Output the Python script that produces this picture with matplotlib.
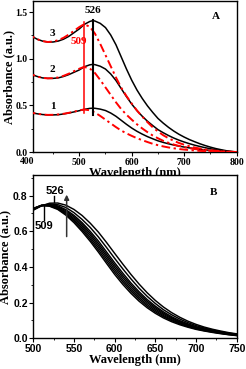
import numpy as np
import matplotlib
matplotlib.use("Agg")
import matplotlib.pyplot as plt
from matplotlib.ticker import MultipleLocator

# ---------------- DATA : panel A ----------------
wl_black = [400, 410, 420, 430, 440, 450, 460, 470, 480, 490, 500, 510, 520, 526,
            530, 540, 550, 560, 570, 580, 590, 600, 610, 620, 630, 640, 650, 660,
            670, 680, 690, 700, 710, 720, 730, 740, 750, 760, 770, 780, 790, 800]
black_3 = [1.27, 1.24, 1.21, 1.19, 1.18, 1.18, 1.19, 1.21, 1.24, 1.28, 1.32, 1.37, 1.40, 1.41,
           1.405, 1.38, 1.335, 1.255, 1.15, 1.02, 0.89, 0.77, 0.665, 0.575, 0.495, 0.425, 0.36, 0.31,
           0.265, 0.225, 0.19, 0.16, 0.133, 0.11, 0.088, 0.069, 0.052, 0.037, 0.025, 0.014, 0.006, 0.0]
black_2 = [0.85, 0.83, 0.81, 0.795, 0.79, 0.79, 0.795, 0.81, 0.83, 0.855, 0.88, 0.915, 0.935, 0.94,
           0.937, 0.92, 0.89, 0.837, 0.767, 0.68, 0.594, 0.514, 0.444, 0.384, 0.33, 0.284, 0.24, 0.207,
           0.177, 0.15, 0.127, 0.107, 0.089, 0.073, 0.059, 0.046, 0.035, 0.025, 0.017, 0.009, 0.004, 0.0]
black_1 = [0.43, 0.42, 0.41, 0.402, 0.398, 0.398, 0.40, 0.408, 0.418, 0.43, 0.443, 0.458, 0.468, 0.47,
           0.469, 0.46, 0.445, 0.418, 0.383, 0.34, 0.297, 0.257, 0.222, 0.192, 0.165, 0.142, 0.12, 0.103,
           0.088, 0.075, 0.063, 0.053, 0.044, 0.037, 0.029, 0.023, 0.017, 0.012, 0.008, 0.005, 0.002, 0.0]

wl_red = [400, 410, 420, 430, 440, 450, 460, 470, 480, 490, 500, 509, 520, 530,
          540, 550, 560, 570, 580, 590, 600, 610, 620, 630, 640, 650, 660, 670,
          680, 690, 700, 710, 720, 730, 740, 750, 760, 770, 780, 790, 800]
red_3 = [1.27, 1.24, 1.21, 1.19, 1.18, 1.185, 1.20, 1.225, 1.26, 1.30, 1.34, 1.37, 1.345, 1.27,
         1.16, 1.04, 0.92, 0.80, 0.69, 0.60, 0.52, 0.445, 0.38, 0.32, 0.265, 0.22, 0.18, 0.148,
         0.12, 0.097, 0.078, 0.062, 0.048, 0.037, 0.028, 0.02, 0.014, 0.009, 0.005, 0.002, 0.0]
red_2 = [0.85, 0.83, 0.81, 0.795, 0.79, 0.792, 0.80, 0.817, 0.84, 0.867, 0.893, 0.913, 0.897, 0.847,
         0.773, 0.693, 0.613, 0.533, 0.46, 0.40, 0.347, 0.297, 0.253, 0.213, 0.177, 0.147, 0.12, 0.099,
         0.08, 0.065, 0.052, 0.041, 0.032, 0.025, 0.019, 0.013, 0.009, 0.006, 0.003, 0.001, 0.0]
red_1 = [0.43, 0.42, 0.41, 0.402, 0.398, 0.399, 0.403, 0.41, 0.42, 0.433, 0.446, 0.456, 0.448, 0.423,
         0.387, 0.347, 0.307, 0.267, 0.23, 0.20, 0.173, 0.148, 0.127, 0.107, 0.088, 0.073, 0.06, 0.049,
         0.04, 0.032, 0.026, 0.021, 0.016, 0.012, 0.009, 0.007, 0.005, 0.003, 0.002, 0.001, 0.0]

curve_labels = ["1", "2", "3"]
label_y = [0.485, 0.88, 1.27]

# ---------------- DATA : panel B ----------------
wl_b = [500, 510, 520, 530, 540, 550, 560, 570, 580, 590, 600, 610, 620,
        630, 640, 650, 660, 670, 680, 690, 700, 710, 720, 730, 740, 750]
b_c0 = [0.728, 0.745, 0.740, 0.722, 0.690, 0.648, 0.598, 0.543, 0.483, 0.420, 0.358, 0.302, 0.252,
        0.208, 0.171, 0.140, 0.114, 0.093, 0.076, 0.062, 0.050, 0.041, 0.033, 0.026, 0.020, 0.015]
b_c1 = [0.727, 0.745, 0.742, 0.726, 0.696, 0.656, 0.608, 0.554, 0.495, 0.433, 0.371, 0.315, 0.264,
        0.219, 0.180, 0.148, 0.121, 0.099, 0.081, 0.066, 0.053, 0.043, 0.035, 0.028, 0.021, 0.016]
b_c2 = [0.726, 0.744, 0.744, 0.730, 0.702, 0.664, 0.618, 0.565, 0.508, 0.446, 0.384, 0.327, 0.275,
        0.229, 0.189, 0.156, 0.127, 0.104, 0.085, 0.069, 0.056, 0.046, 0.037, 0.029, 0.023, 0.017]
b_c3 = [0.725, 0.744, 0.746, 0.734, 0.708, 0.672, 0.628, 0.577, 0.520, 0.459, 0.397, 0.340, 0.287,
        0.240, 0.199, 0.164, 0.134, 0.110, 0.090, 0.073, 0.059, 0.048, 0.039, 0.031, 0.024, 0.018]
b_c4 = [0.724, 0.744, 0.747, 0.738, 0.715, 0.681, 0.638, 0.588, 0.532, 0.471, 0.410, 0.352, 0.299,
        0.250, 0.208, 0.172, 0.141, 0.115, 0.094, 0.077, 0.062, 0.051, 0.041, 0.033, 0.025, 0.019]
b_c5 = [0.723, 0.743, 0.749, 0.742, 0.721, 0.689, 0.648, 0.599, 0.545, 0.484, 0.423, 0.365, 0.310,
        0.261, 0.217, 0.180, 0.148, 0.121, 0.099, 0.081, 0.065, 0.053, 0.043, 0.034, 0.027, 0.021]
b_c6 = [0.720, 0.743, 0.753, 0.749, 0.733, 0.704, 0.666, 0.621, 0.568, 0.509, 0.448, 0.389, 0.333,
        0.281, 0.235, 0.195, 0.160, 0.132, 0.108, 0.088, 0.071, 0.058, 0.047, 0.037, 0.029, 0.023]
b_c7 = [0.718, 0.742, 0.757, 0.758, 0.746, 0.722, 0.688, 0.645, 0.595, 0.537, 0.476, 0.416, 0.358,
        0.304, 0.255, 0.212, 0.175, 0.144, 0.118, 0.096, 0.078, 0.063, 0.051, 0.041, 0.032, 0.025]
b_curves = [b_c0, b_c1, b_c2, b_c3, b_c4, b_c5, b_c6, b_c7]

serif = "Liberation Serif"
sans = "Liberation Sans"

fig = plt.figure(figsize=(2.46, 3.69), dpi=100)

# ---------------- PANEL A ----------------
axA = fig.add_axes([33.3 / 246, 1 - 152 / 369, 203.4 / 246, 151 / 369])
for y in [black_1, black_2, black_3]:
    axA.plot(wl_black, y, color="black", lw=1.1, zorder=2)
for y in [red_1, red_2, red_3]:
    axA.plot(wl_red, y, color="red", lw=1.4, dashes=(4.5, 1.8, 1.2, 1.8), zorder=3)

axA.plot([509, 509], [0.42, 1.39], color="red", lw=1.1, zorder=4)
axA.plot([526, 526], [0.40, 1.42], color="black", lw=1.5, zorder=4)
axA.text(526, 1.47, "526", ha="center", va="bottom", fontsize=8,
         fontweight="bold", family=serif)
axA.text(499, 1.19, "509", ha="center", va="center", fontsize=8,
         fontweight="bold", family=serif, color="red", zorder=3)
for lab, yy in zip(curve_labels, label_y):
    axA.text(449, yy, lab, ha="center", va="center", fontsize=8,
             fontweight="bold", family=serif)
axA.text(761, 1.455, "A", ha="center", va="center", fontsize=8,
         fontweight="bold", family=serif)

axA.set_xlim(412.5, 800)
axA.set_ylim(0, 1.62)
axA.set_xticks([500, 600, 700, 800])
axA.xaxis.set_minor_locator(MultipleLocator(50))
axA.yaxis.set_minor_locator(MultipleLocator(0.25))
axA.set_yticks([0.0, 0.5, 1.0, 1.5])
axA.set_yticklabels(["0.0", "0.5", "1.0", "1.5"])
# the first wavelength label sits just left of the frame
axA.text(400, -0.03, "400", transform=axA.get_xaxis_transform(), ha="center",
         va="top", fontsize=7, fontweight="bold", family=serif, clip_on=False)
axA.set_xlabel("Wavelength (nm)", fontsize=9, fontweight="bold", family=serif, labelpad=0)
axA.set_ylabel("Absorbance (a.u.)", fontsize=9, fontweight="bold", family=serif, labelpad=0)
for lab in axA.get_xticklabels() + axA.get_yticklabels():
    lab.set_fontfamily(serif)
    lab.set_fontweight("bold")
    lab.set_fontsize(7)
axA.tick_params(which="major", direction="out", length=3, width=0.8, pad=1)
axA.tick_params(which="minor", direction="out", length=1.5, width=0.6)

# ---------------- PANEL B ----------------
axB = fig.add_axes([33.3 / 246, 1 - 338.3 / 369, 203.4 / 246, 163.3 / 369])
for y in b_curves:
    axB.plot(wl_b, y, color="black", lw=1.05)

axB.plot([526, 526], [0.762, 0.795], color="black", lw=1.0)
axB.text(526, 0.80, "526", ha="center", va="bottom", fontsize=8,
         fontweight="bold", family=sans)
axB.plot([513, 513], [0.745, 0.663], color="black", lw=1.0)
axB.text(513, 0.655, "509", ha="center", va="top", fontsize=8,
         fontweight="bold", family=sans)
axB.annotate("", xy=(541, 0.805), xytext=(541, 0.57),
             arrowprops=dict(arrowstyle="-|>", color="#333333", lw=1.1,
                             mutation_scale=7, shrinkA=0, shrinkB=0))
axB.text(721, 0.815, "B", ha="center", va="center", fontsize=8,
         fontweight="bold", family=serif)

axB.set_xlim(500, 750)
axB.set_ylim(0, 0.915)
axB.xaxis.set_major_locator(MultipleLocator(50))
axB.xaxis.set_minor_locator(MultipleLocator(25))
axB.yaxis.set_major_locator(MultipleLocator(0.2))
axB.yaxis.set_minor_locator(MultipleLocator(0.1))
axB.set_xlabel("Wavelength (nm)", fontsize=9, fontweight="bold", family=serif, labelpad=0)
axB.set_ylabel("Absorbance (a.u.)", fontsize=9, fontweight="bold", family=serif, labelpad=1)
for lab in axB.get_xticklabels() + axB.get_yticklabels():
    lab.set_fontfamily(sans)
    lab.set_fontweight("bold")
    lab.set_fontsize(7.5)
axB.tick_params(which="major", direction="out", length=3, width=0.8, pad=1)
axB.tick_params(which="minor", direction="out", length=1.5, width=0.6)

for ax in (axA, axB):
    for s in ax.spines.values():
        s.set_linewidth(1.0)

fig.savefig("out.png", dpi=100)
